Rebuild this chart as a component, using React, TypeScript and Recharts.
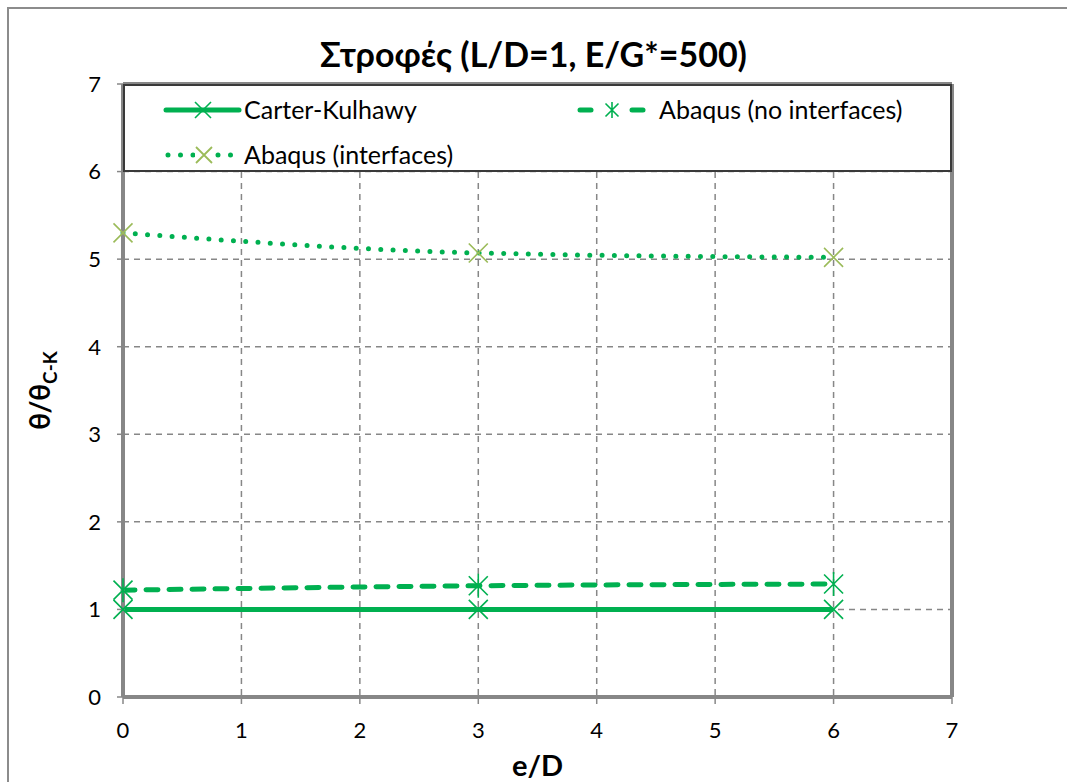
import React from "react";
import {
  LineChart,
  Line,
  XAxis,
  YAxis,
  CartesianGrid,
  ReferenceLine,
  Legend,
  Label,
} from "recharts";

// e/D positions and normalised rotations θ/θC-K
const E_OVER_D = [0, 3, 6];
const CARTER_KULHAWY = [1, 1, 1];
const ABAQUS_NO_INTERFACES = [1.22, 1.27, 1.29];
const ABAQUS_INTERFACES = [5.3, 5.07, 5.02];
const AXIS_TICKS = [0, 1, 2, 3, 4, 5, 6, 7];

const GREEN = "#00B050";
const OLIVE = "#9BBB59";
const AXIS_GRAY = "#878787";
const FONT = "Lato, 'Liberation Sans', sans-serif";

if (typeof document !== "undefined") {
  document.documentElement.style.overflow = "hidden";
  document.body.style.margin = "0";
  document.body.style.overflow = "hidden";
}

const data = E_OVER_D.map((e, i) => ({
  e,
  ck: CARTER_KULHAWY[i],
  noInt: ABAQUS_NO_INTERFACES[i],
  withInt: ABAQUS_INTERFACES[i],
}));

function crossPath(cx: number, cy: number, r: number) {
  return `M${cx - r},${cy - r}L${cx + r},${cy + r}M${cx - r},${cy + r}L${cx + r},${cy - r}`;
}

function XMark(props: any) {
  const { cx, cy, color } = props;
  if (cx == null || cy == null) return null;
  return <path d={crossPath(cx, cy, 9.5)} stroke={color} strokeWidth={1.6} fill="none" />;
}

function StarMark(props: any) {
  const { cx, cy, color } = props;
  if (cx == null || cy == null) return null;
  return (
    <path
      d={`${crossPath(cx, cy, 9.5)}M${cx},${cy - 12}L${cx},${cy + 12}`}
      stroke={color}
      strokeWidth={1.6}
      fill="none"
    />
  );
}

function LegendBox() {
  const row1 = 24;
  const row2 = 69;
  const textStyle = { fontFamily: FONT, fontSize: 25, fill: "#000" };
  return (
    <div
      style={{
        width: 829,
        height: 88,
        boxSizing: "border-box",
        border: "2px solid #3a3a3a",
        background: "#fff",
      }}
    >
      <svg width={825} height={84} style={{ display: "block" }}>
        {/* Carter-Kulhawy */}
        <line x1={41} y1={row1} x2={114} y2={row1} stroke={GREEN} strokeWidth={5} strokeLinecap="round" />
        <path d={crossPath(78, row1, 8)} stroke={GREEN} strokeWidth={1.6} fill="none" />
        <text x={119} y={row1} dy="0.36em" style={textStyle}>Carter-Kulhawy</text>

        {/* Abaqus (no interfaces) */}
        <line x1={455} y1={row1} x2={466} y2={row1} stroke={GREEN} strokeWidth={5} strokeLinecap="round" />
        <line x1={507} y1={row1} x2={518} y2={row1} stroke={GREEN} strokeWidth={5} strokeLinecap="round" />
        <path
          d={`${crossPath(487, row1, 6.5)}M487,${row1 - 8}L487,${row1 + 8}`}
          stroke={GREEN}
          strokeWidth={1.6}
          fill="none"
        />
        <text x={534} y={row1} dy="0.36em" style={textStyle}>Abaqus (no interfaces)</text>

        {/* Abaqus (interfaces) */}
        <line
          x1={43}
          y1={row2}
          x2={112}
          y2={row2}
          stroke={GREEN}
          strokeWidth={5}
          strokeLinecap="round"
          strokeDasharray="0 12.5"
        />
        <rect x={70} y={row2 - 9} width={18} height={18} fill="#fff" />
        <path d={crossPath(79, row2, 8)} stroke={OLIVE} strokeWidth={1.8} fill="none" />
        <text x={119} y={row2} dy="0.36em" style={textStyle}>Abaqus (interfaces)</text>
      </svg>
    </div>
  );
}

function YTitle(props: any) {
  const vb = props.viewBox || {};
  const cx = 40;
  const cy = (vb.y ?? 84) + (vb.height ?? 613) / 2;
  return (
    <text
      transform={`translate(${cx},${cy}) rotate(-90)`}
      textAnchor="middle"
      dy="0.36em"
      style={{ fontFamily: FONT, fontWeight: 700, fontSize: 28, fill: "#000" }}
    >
      θ/θ
      <tspan fontSize={19} dy="7">C-K</tspan>
    </text>
  );
}

export default function App() {
  return (
    <div
      style={{
        position: "absolute",
        left: 0,
        top: 0,
        width: 1067,
        height: 782,
        overflow: "hidden",
        background: "#fff",
      }}
    >
      <div
        style={{
          position: "absolute",
          left: 7,
          top: 7,
          width: 1100,
          height: 800,
          borderLeft: "2px solid #8c8c8c",
          borderTop: "2px solid #8c8c8c",
        }}
      />
      <div
        style={{
          position: "absolute",
          left: 0,
          top: 34,
          width: 1067,
          lineHeight: "40px",
          textAlign: "center",
          fontFamily: FONT,
          fontWeight: 700,
          fontSize: 34,
          color: "#000",
        }}
      >
        Στροφές (L/D=1, E/G*=500)
      </div>
      <LineChart
        width={1067}
        height={782}
        data={data}
        margin={{ top: 84, right: 115, bottom: 35, left: 63 }}
        style={{ position: "absolute", left: 0, top: 0, fontFamily: FONT }}
      >
        <CartesianGrid stroke={AXIS_GRAY} strokeWidth={1.5} strokeDasharray="6 5" />
        <XAxis
          type="number"
          dataKey="e"
          domain={[0, 7]}
          ticks={AXIS_TICKS}
          interval={0}
          height={50}
          axisLine={{ stroke: AXIS_GRAY, strokeWidth: 4 }}
          tickLine={{ stroke: AXIS_GRAY, strokeWidth: 1.5 }}
          tickSize={7}
          tickMargin={18}
          tick={{ fontSize: 22, fill: "#000", fontFamily: FONT }}
        >
          <Label
            value="e/D"
            position="bottom"
            offset={8}
            style={{ fontFamily: FONT, fontWeight: 700, fontSize: 29, fill: "#000" }}
          />
        </XAxis>
        <YAxis
          type="number"
          domain={[0, 7]}
          ticks={AXIS_TICKS}
          interval={0}
          width={60}
          axisLine={{ stroke: AXIS_GRAY, strokeWidth: 4 }}
          tickLine={{ stroke: AXIS_GRAY, strokeWidth: 1.5 }}
          tickSize={6}
          tickMargin={16}
          tick={{ fontSize: 22, fill: "#000", fontFamily: FONT }}
        >
          <Label content={<YTitle />} />
        </YAxis>
        <ReferenceLine y={7} stroke={AXIS_GRAY} strokeWidth={4} />
        <ReferenceLine x={7} stroke={AXIS_GRAY} strokeWidth={4} />
        <Legend
          layout="horizontal"
          verticalAlign="middle"
          align="center"
          wrapperStyle={{ left: 123, top: 84, width: 829, height: 88 }}
          content={() => <LegendBox />}
        />
        <Line
          dataKey="ck"
          name="Carter-Kulhawy"
          type="linear"
          stroke={GREEN}
          strokeWidth={5}
          dot={(p: any) => <XMark key={`ck-${p.index}`} {...p} color={GREEN} />}
          isAnimationActive={false}
        />
        <Line
          dataKey="noInt"
          name="Abaqus (no interfaces)"
          type="monotone"
          stroke={GREEN}
          strokeWidth={5}
          strokeLinecap="round"
          strokeDasharray="12 11"
          dot={(p: any) => <StarMark key={`ni-${p.index}`} {...p} color={GREEN} />}
          isAnimationActive={false}
        />
        <Line
          dataKey="withInt"
          name="Abaqus (interfaces)"
          type="monotone"
          stroke={GREEN}
          strokeWidth={5}
          strokeLinecap="round"
          strokeDasharray="0 12.3"
          dot={(p: any) => <XMark key={`wi-${p.index}`} {...p} color={OLIVE} />}
          isAnimationActive={false}
        />
      </LineChart>
    </div>
  );
}
